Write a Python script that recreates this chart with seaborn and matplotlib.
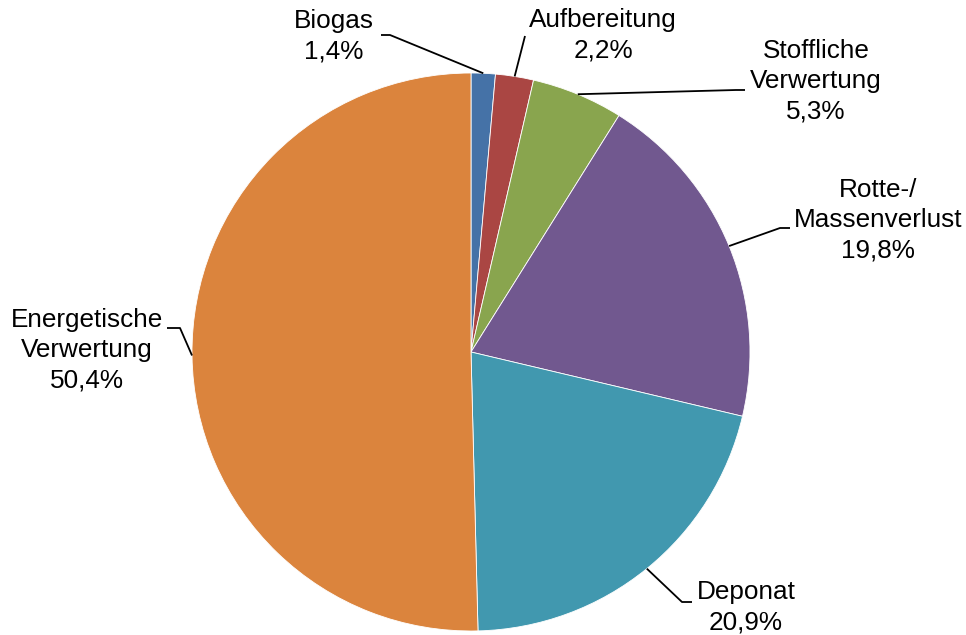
import numpy as np
import matplotlib
matplotlib.use("Agg")
import matplotlib.pyplot as plt
import seaborn as sns

# ---- data ----
categories = ["Biogas", "Aufbereitung", "Stoffliche\nVerwertung", "Rotte-/\nMassenverlust",
              "Deponat", "Energetische\nVerwertung"]
values = [1.4, 2.2, 5.3, 19.8, 20.9, 50.4]
value_labels = ["1,4%", "2,2%", "5,3%", "19,8%", "20,9%", "50,4%"]
colors = ["#4572A7", "#AA4643", "#89A54E", "#71588F", "#4198AF", "#DB843D"]

# ---- layout (pixel coordinates, y from top) ----
W, H = 966, 635
center_px = (471, 352)
radius_px = 279
label_pos = [(334, 36), (603, 35), (816, 81), (878, 220), (746, 607), (87, 350)]
elbows = [[(390, 35), (381, 35)],
          [(525, 36)],
          [(736, 90), (745, 90)],
          [(780, 228), (790, 228)],
          [(682, 602), (692, 602)],
          [(180, 328), (167, 328)]]

sns.set_theme(style="white")
plt.rcParams['font.family'] = ['Liberation Sans', 'DejaVu Sans']

fig = plt.figure(figsize=(W / 100, H / 100), dpi=100)
ax = fig.add_axes([0, 0, 1, 1])

cx, cy = center_px[0], H - center_px[1]
wedges, _ = ax.pie(values, colors=colors, startangle=90, counterclock=False,
                   center=(cx, cy), radius=radius_px,
                   wedgeprops=dict(edgecolor="white", linewidth=0.6))
ax.set_xlim(0, W)
ax.set_ylim(0, H)
ax.set_aspect("auto")
ax.axis("off")

for w, cat, vl, (lx, ly), el in zip(wedges, categories, value_labels, label_pos, elbows):
    ang = np.deg2rad((w.theta1 + w.theta2) / 2)
    ex = cx + radius_px * np.cos(ang)
    ey = cy + radius_px * np.sin(ang)
    xs = [ex] + [p[0] for p in el]
    ys = [ey] + [H - p[1] for p in el]
    ax.plot(xs, ys, color="black", lw=1.3, solid_capstyle="butt")
    ax.text(lx, H - ly, f"{cat}\n{vl}", ha="center", va="center",
            fontsize=18.8, linespacing=1.32, color="black")

fig.savefig("out.png", dpi=100, facecolor="white")
